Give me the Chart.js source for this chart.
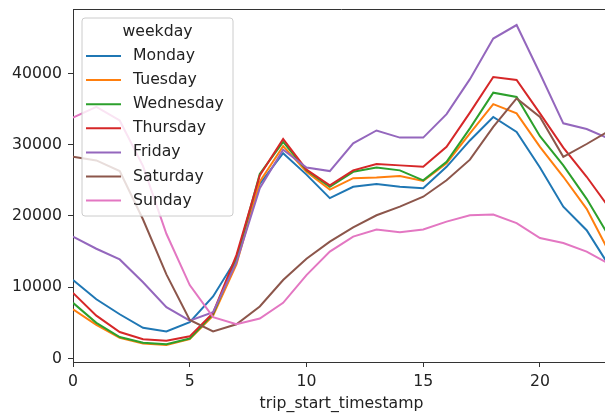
<!DOCTYPE html>
<html lang="en">
<head>
    <meta charset="UTF-8">
    <title>Trips by hour and weekday</title>
    <script src="https://cdn.jsdelivr.net/npm/chart.js"></script>
    <style>
        html, body { margin: 0; padding: 0; background: #fff; overflow: hidden; }
        #wrap { width: 605px; height: 418px; overflow: hidden; }
    </style>
</head>
<body>
    <div id="wrap"><canvas id="hourChart" width="615" height="418"></canvas></div>

    <script>
        // hour of day (trip_start_timestamp)
        const hours = [0, 1, 2, 3, 4, 5, 6, 7, 8, 9, 10, 11, 12, 13, 14, 15, 16, 17, 18, 19, 20, 21, 22, 23];
        const weekdays = ['Monday', 'Tuesday', 'Wednesday', 'Thursday', 'Friday', 'Saturday', 'Sunday'];

        const monday    = [11000, 8300, 6200, 4300, 3800, 5100, 8700, 14000, 24500, 28800, 25800, 22500, 24100, 24500, 24100, 23900, 26900, 30600, 33900, 31800, 26800, 21300, 18000, 12800];
        const tuesday   = [6900, 4700, 2900, 2100, 1900, 2700, 6000, 13200, 24800, 29800, 26200, 23700, 25300, 25400, 25600, 24900, 27400, 31600, 35700, 34400, 29700, 25500, 21000, 14700];
        const wednesday = [7800, 5000, 3000, 2200, 2000, 2800, 6200, 14000, 25900, 30400, 26400, 24100, 26200, 26800, 26400, 25000, 27600, 32300, 37300, 36700, 31200, 27100, 22400, 16900];
        const thursday  = [9200, 6000, 3700, 2700, 2500, 3100, 6400, 14500, 25700, 30800, 26500, 24300, 26400, 27300, 27100, 26900, 29700, 34500, 39500, 39100, 34400, 29600, 25500, 21000];
        const friday    = [17100, 15400, 13900, 10700, 7200, 5300, 6500, 13500, 23900, 29300, 26800, 26300, 30200, 32000, 31000, 31000, 34300, 39200, 44900, 46800, 40000, 33000, 32200, 30800];
        const saturday  = [28300, 27800, 26300, 19500, 11800, 5400, 3800, 4800, 7300, 11000, 14000, 16400, 18400, 20100, 21300, 22700, 25000, 27900, 32500, 36500, 33900, 28300, 30100, 32000];
        const sunday    = [33800, 35300, 33400, 27000, 17500, 10300, 5800, 4800, 5600, 7800, 11700, 15000, 17100, 18100, 17700, 18100, 19200, 20100, 20200, 19000, 16900, 16200, 15000, 13200];

        const xTicks = [0, 5, 10, 15, 20];
        const yTicks = [0, 10000, 20000, 30000, 40000];

        const series = [monday, tuesday, wednesday, thursday, friday, saturday, sunday];
        const colors = ['#1f77b4', '#ff7f0e', '#2ca02c', '#d62728', '#9467bd', '#8c564b', '#e377c2'];
        const FONT = 'DejaVu Sans';
        const FS = 15.7;

        // matplotlib style legend box drawn inside the axes
        const boxLegend = {
            id: 'boxLegend',
            afterDatasetsDraw(chart) {
                const ctx = chart.ctx;
                const x = 82, y = 18, w = 151, h = 198;
                ctx.save();
                ctx.beginPath();
                ctx.roundRect(x, y, w, h, 3);
                ctx.fillStyle = 'rgba(255,255,255,0.8)';
                ctx.fill();
                ctx.strokeStyle = '#cccccc';
                ctx.lineWidth = 1;
                ctx.stroke();

                ctx.font = FS + 'px "' + FONT + '"';
                ctx.fillStyle = '#222';
                ctx.textBaseline = 'middle';
                ctx.textAlign = 'center';
                ctx.fillText('weekday', x + w / 2, 32);

                ctx.textAlign = 'left';
                chart.data.datasets.forEach((ds, i) => {
                    const ly = 56 + i * 24.1;
                    ctx.strokeStyle = ds.borderColor;
                    ctx.lineWidth = 2;
                    ctx.beginPath();
                    ctx.moveTo(86, ly);
                    ctx.lineTo(121, ly);
                    ctx.stroke();
                    ctx.fillText(ds.label, 133, ly);
                });
                ctx.restore();
            }
        };

        // top and right spines
        const spines = {
            id: 'spines',
            afterDraw(chart) {
                const a = chart.chartArea, ctx = chart.ctx;
                ctx.save();
                ctx.strokeStyle = '#333';
                ctx.lineWidth = 1;
                ctx.beginPath();
                ctx.moveTo(a.left, a.top + 0.5);
                ctx.lineTo(a.right, a.top + 0.5);
                ctx.lineTo(a.right, a.bottom);
                ctx.stroke();
                ctx.restore();
            }
        };

        const ctx = document.getElementById('hourChart').getContext('2d');
        new Chart(ctx, {
            type: 'line',
            data: {
                datasets: series.map((vals, i) => ({
                    label: weekdays[i],
                    data: hours.map((h, j) => ({ x: h, y: vals[j] })),
                    borderColor: colors[i],
                    backgroundColor: colors[i],
                    borderWidth: 2,
                    pointRadius: 0,
                    tension: 0,
                    order: series.length - i
                }))
            },
            options: {
                responsive: false,
                animation: false,
                devicePixelRatio: 1,
                layout: { padding: { top: 9, right: 5, left: 0, bottom: 0 } },
                plugins: {
                    legend: { display: false },
                    tooltip: { enabled: false }
                },
                scales: {
                    x: {
                        type: 'linear',
                        min: 0,
                        max: 23,
                        afterFit: s => { s.height = 56; s.paddingLeft = 0; s.paddingRight = 0; },
                        afterBuildTicks: s => { s.ticks = xTicks.map(v => ({ value: v })); },
                        ticks: {
                            color: '#222',
                            font: { family: FONT, size: FS },
                            padding: 6,
                            maxRotation: 0,
                            callback: v => String(v)
                        },
                        grid: { drawOnChartArea: false, drawTicks: true, tickLength: 5, color: '#333' },
                        border: { display: true, color: '#333', width: 1 },
                        title: {
                            display: true,
                            text: 'trip_start_timestamp',
                            color: '#222',
                            font: { family: FONT, size: FS },
                            padding: { top: 0, bottom: 5 }
                        }
                    },
                    y: {
                        min: -500,
                        max: 49050,
                        afterFit: s => { s.width = 73; s.paddingTop = 0; s.paddingBottom = 0; },
                        afterBuildTicks: s => { s.ticks = yTicks.map(v => ({ value: v })); },
                        ticks: {
                            color: '#222',
                            font: { family: FONT, size: FS },
                            padding: 6,
                            callback: v => String(v)
                        },
                        grid: { drawOnChartArea: false, drawTicks: true, tickLength: 5, color: '#333' },
                        border: { display: true, color: '#333', width: 1 }
                    }
                }
            },
            plugins: [boxLegend, spines]
        });
    </script>
</body>
</html>
